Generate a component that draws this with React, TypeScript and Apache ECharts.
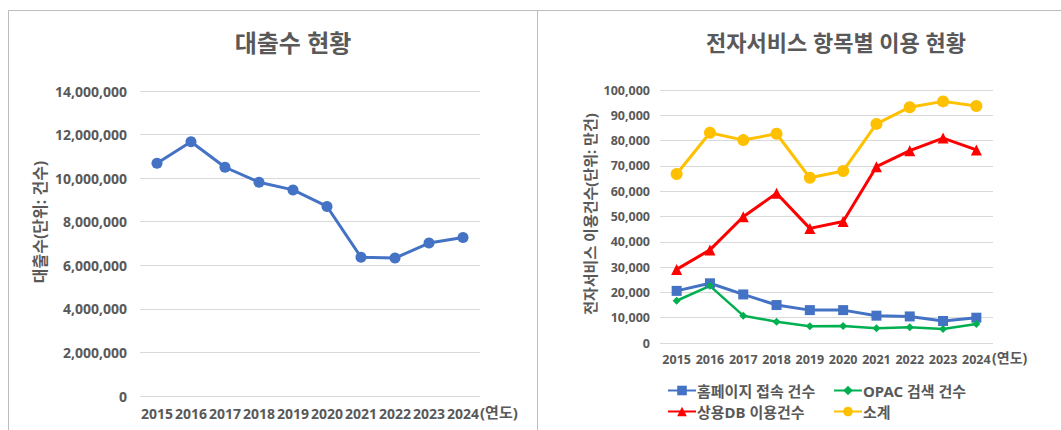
import React, { useEffect, useRef } from "react";
import * as echarts from "echarts";

const years = ["2015", "2016", "2017", "2018", "2019", "2020", "2021", "2022", "2023", "2024"];
const loans = [10680000, 11670000, 10500000, 9810000, 9460000, 8700000, 6370000, 6330000, 7020000, 7280000];
const homepage = [20600, 23600, 19200, 15000, 13000, 13000, 10800, 10500, 8700, 10000];
const opac = [16700, 22600, 10800, 8400, 6600, 6700, 5800, 6200, 5500, 7500];
const commercialDb = [29100, 36800, 49900, 59200, 45300, 48000, 69700, 76000, 81000, 76300];
const subtotal = [66800, 83100, 80200, 82700, 65300, 68000, 86600, 93200, 95500, 93700];

const leftTitle = "대출수 현황";
const rightTitle = "전자서비스 항목별 이용 현황";
const leftYName = "대출수(단위: 건수)";
const rightYName = "전자서비스 이용건수(단위: 만건)";
const xName = "(연도)";
const seriesNames = ["홈페이지 접속 건수", "OPAC 검색 건수", "상용DB 이용건수", "소계"];

const FONT = "'Noto Sans', 'Noto Sans CJK KR', sans-serif";
const TXT = "#595959";
const GRID = "#d9d9d9";

export default function App() {
  const ref = useRef<HTMLDivElement>(null);
  useEffect(() => {
    if (!ref.current) return;
    const chart = echarts.init(ref.current, undefined, { renderer: "svg" });
    const fmt = (v: number) => v.toLocaleString("en-US");
    const labelStyle = (size: number) => ({
      color: TXT,
      fontSize: size,
      fontWeight: "bold" as const,
      fontFamily: FONT,
    });
    chart.setOption({
      animation: false,
      backgroundColor: "#ffffff",
      title: [
        {
          text: leftTitle,
          left: 288,
          top: 25,
          textAlign: "center",
          textStyle: { color: TXT, fontSize: 24, fontWeight: "bold", fontFamily: FONT },
        },
        {
          text: rightTitle,
          left: 831,
          top: 26,
          textAlign: "center",
          textStyle: { color: TXT, fontSize: 22, fontWeight: "bold", fontFamily: FONT },
        },
      ],
      grid: [
        { left: 140, top: 91, width: 340, height: 305 },
        { left: 660, top: 90, width: 333, height: 253 },
      ],
      xAxis: [
        {
          type: "category",
          gridIndex: 0,
          data: years,
          boundaryGap: true,
          axisLine: { show: false },
          axisTick: { show: false },
          axisLabel: { ...labelStyle(14), interval: 0, margin: 10 },
          name: xName,
          nameLocation: "end",
          nameGap: 0,
          nameMoveOverlap: false,
          nameTextStyle: { ...labelStyle(15), align: "left", verticalAlign: "top", padding: [8, 0, 0, 0] },
        },
        {
          type: "category",
          gridIndex: 1,
          data: years,
          boundaryGap: true,
          axisLine: { show: false },
          axisTick: { show: false },
          axisLabel: { ...labelStyle(12.5), interval: 0, margin: 10 },
          name: xName,
          nameLocation: "end",
          nameGap: -1,
          nameMoveOverlap: false,
          nameTextStyle: { ...labelStyle(14), align: "left", verticalAlign: "top", padding: [8, 0, 0, 0] },
        },
      ],
      yAxis: [
        {
          type: "value",
          gridIndex: 0,
          min: 0,
          max: 14000000,
          interval: 2000000,
          axisLine: { show: false },
          axisTick: { show: false },
          axisLabel: { ...labelStyle(14), margin: 13, formatter: fmt },
          splitLine: { lineStyle: { color: GRID, width: 1 } },
        },
        {
          type: "value",
          gridIndex: 1,
          min: 0,
          max: 100000,
          interval: 10000,
          axisLine: { show: false },
          axisTick: { show: false },
          axisLabel: { ...labelStyle(12.5), margin: 10, formatter: fmt },
          splitLine: { lineStyle: { color: GRID, width: 1 } },
        },
      ],
      legend: [
        { name: seriesNames[0], left: 667, top: 383 },
        { name: seriesNames[1], left: 833, top: 383 },
        { name: seriesNames[2], left: 667, top: 404 },
        { name: seriesNames[3], left: 833, top: 404 },
      ].map((l) => ({
        data: [l.name],
        left: l.left,
        top: l.top,
        padding: 0,
        itemWidth: 28,
        itemHeight: 12,
        itemGap: 0,
        textStyle: { ...labelStyle(15), padding: [0, 0, 0, -4] },
      })),
      series: [
        {
          name: "대출수",
          type: "line",
          xAxisIndex: 0,
          yAxisIndex: 0,
          data: loans,
          symbol: "circle",
          symbolSize: 11,
          lineStyle: { color: "#4472C4", width: 3 },
          itemStyle: { color: "#4472C4" },
        },
        {
          name: seriesNames[0],
          type: "line",
          xAxisIndex: 1,
          yAxisIndex: 1,
          data: homepage,
          symbol: "rect",
          symbolSize: 10,
          lineStyle: { color: "#4472C4", width: 3 },
          itemStyle: { color: "#4472C4" },
        },
        {
          name: seriesNames[1],
          type: "line",
          xAxisIndex: 1,
          yAxisIndex: 1,
          data: opac,
          symbol: "diamond",
          symbolSize: 8,
          lineStyle: { color: "#00B050", width: 2.5 },
          itemStyle: { color: "#00B050" },
        },
        {
          name: seriesNames[2],
          type: "line",
          xAxisIndex: 1,
          yAxisIndex: 1,
          data: commercialDb,
          symbol: "triangle",
          symbolSize: 11,
          lineStyle: { color: "#FF0000", width: 3 },
          itemStyle: { color: "#FF0000" },
        },
        {
          name: seriesNames[3],
          type: "line",
          xAxisIndex: 1,
          yAxisIndex: 1,
          data: subtotal,
          symbol: "circle",
          symbolSize: 12,
          lineStyle: { color: "#FFC000", width: 3 },
          itemStyle: { color: "#FFC000" },
        },
      ],
      graphic: [
        {
          type: "rect",
          shape: { x: 8.5, y: 10.5, width: 529, height: 450 },
          style: { fill: "none", stroke: "#bcbcbc", lineWidth: 1 },
          silent: true,
        },
        {
          type: "line",
          shape: { x1: 537.5, y1: 10.5, x2: 1061, y2: 10.5 },
          style: { stroke: "#bcbcbc", lineWidth: 1 },
          silent: true,
        },
        {
          type: "text",
          x: 40,
          y: 222,
          rotation: Math.PI / 2,
          style: {
            text: leftYName,
            fill: TXT,
            fontSize: 16,
            fontWeight: "bold",
            fontFamily: FONT,
            align: "center",
            verticalAlign: "middle",
          },
        },
        {
          type: "text",
          x: 590,
          y: 214,
          rotation: Math.PI / 2,
          style: {
            text: rightYName,
            fill: TXT,
            fontSize: 15,
            fontWeight: "bold",
            fontFamily: FONT,
            align: "center",
            verticalAlign: "middle",
          },
        },
      ],
    });
    return () => chart.dispose();
  }, []);
  return (
    <div
      ref={ref}
      style={{ position: "absolute", left: 0, top: 0, width: 1061, height: 430, background: "#fff" }}
    />
  );
}
